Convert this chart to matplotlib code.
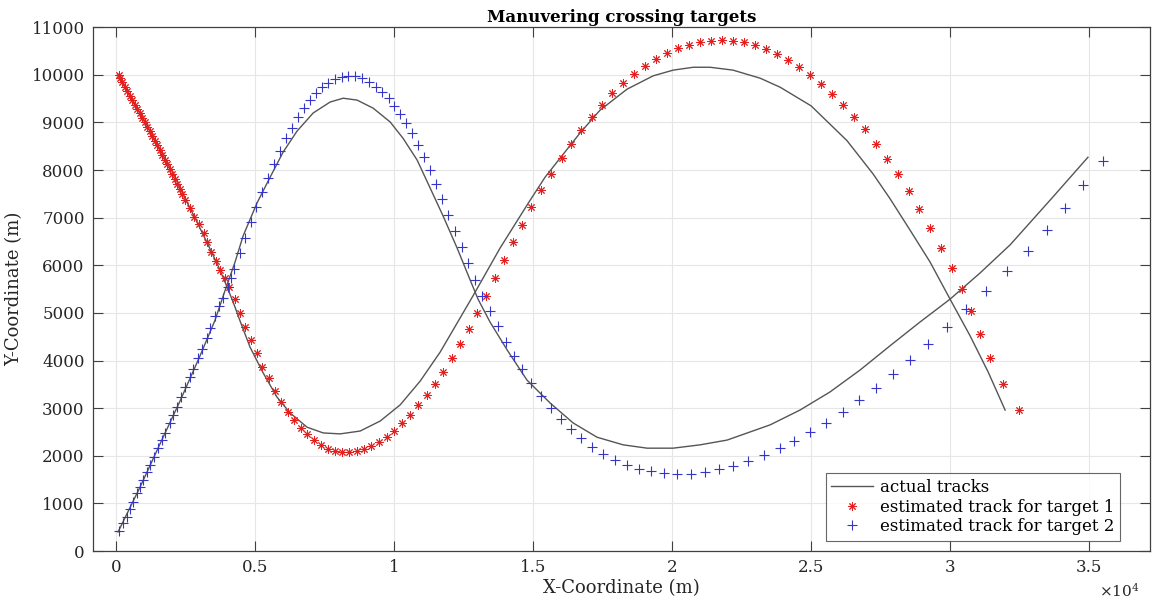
import matplotlib
matplotlib.use("Agg")
from matplotlib import pyplot as plt

# estimated track, target 1 (red stars)
t1_est_x = [100, 160, 230, 340, 410, 510, 590, 690, 770, 870, 950, 1050, 1130, 1230, 1310, 1410, 1490, 1590, 1670, 1770,
            1850, 1950, 2030, 2130, 2210, 2310, 2390, 2490, 2670, 2820, 3000, 3180, 3280, 3430, 3610, 3750, 3930, 4080,
            4290, 4470, 4650, 4870, 5080, 5260, 5510, 5730, 5950, 6200, 6410, 6670, 6880, 7130, 7390, 7640, 7890, 8140,
            8390, 8680, 8930, 9180, 9470, 9760, 10010, 10300, 10590, 10870, 11200, 11490, 11770, 12100, 12380, 12710,
            13000, 13320, 13640, 13970, 14290, 14620, 14940, 15300, 15660, 16050, 16380, 16740, 17130, 17490, 17850,
            18250, 18640, 19040, 19440, 19830, 20230, 20620, 21020, 21410, 21810, 22200, 22600, 23000, 23390, 23790,
            24180, 24580, 24970, 25370, 25770, 26160, 26560, 26950, 27350, 27740, 28140, 28540, 28900, 29290, 29690,
            30080, 30440, 30770, 31090, 31450, 31920, 32490]
t1_est_y = [10000, 9930, 9850, 9740, 9660, 9560, 9470, 9370, 9280, 9200, 9090, 9010, 8900, 8820, 8720, 8610, 8530, 8420,
            8320, 8210, 8130, 8020, 7920, 7810, 7710, 7600, 7500, 7370, 7200, 7010, 6870, 6680, 6490, 6280, 6090, 5900,
            5730, 5540, 5290, 5000, 4700, 4430, 4160, 3860, 3630, 3360, 3130, 2920, 2750, 2580, 2460, 2330, 2230, 2140,
            2100, 2080, 2080, 2100, 2140, 2210, 2290, 2390, 2520, 2690, 2860, 3070, 3280, 3510, 3760, 4050, 4350, 4660,
            5000, 5360, 5730, 6110, 6490, 6850, 7220, 7580, 7920, 8250, 8550, 8840, 9110, 9370, 9620, 9830, 10020,
            10190, 10330, 10460, 10560, 10630, 10690, 10710, 10730, 10710, 10690, 10630, 10540, 10440, 10310, 10160,
            10000, 9810, 9600, 9370, 9110, 8860, 8550, 8230, 7920, 7560, 7180, 6780, 6360, 5940, 5500, 5040, 4560,
            4050, 3510, 2960]

# estimated track, target 2 (blue plus)
t2_est_x = [120, 260, 410, 510, 620, 770, 870, 980, 1130, 1230, 1380, 1520, 1670, 1770, 1950, 2060, 2210, 2350, 2490,
            2670, 2780, 2960, 3100, 3280, 3390, 3570, 3720, 3860, 4040, 4150, 4260, 4470, 4650, 4870, 5050, 5260, 5480,
            5690, 5910, 6130, 6340, 6560, 6770, 6990, 7210, 7420, 7640, 7890, 8140, 8360, 8610, 8860, 9110, 9360, 9580,
            9830, 10010, 10230, 10440, 10660, 10870, 11090, 11310, 11520, 11740, 11950, 12210, 12460, 12670, 12920,
            13180, 13460, 13750, 14040, 14330, 14620, 14940, 15300, 15660, 16020, 16380, 16740, 17130, 17530, 17960,
            18390, 18820, 19260, 19720, 20190, 20690, 21200, 21700, 22200, 22740, 23320, 23900, 24400, 24970, 25550,
            26160, 26740, 27350, 27960, 28570, 29220, 29900, 30590, 31310, 32060, 32820, 33500, 34150, 34790, 35510]
t2_est_y = [420, 590, 710, 880, 1030, 1220, 1340, 1490, 1660, 1810, 1970, 2160, 2330, 2480, 2690, 2860, 3020, 3230,
            3440, 3650, 3820, 4050, 4240, 4470, 4680, 4940, 5150, 5310, 5540, 5730, 5920, 6260, 6570, 6910, 7220, 7540,
            7830, 8130, 8400, 8670, 8880, 9110, 9300, 9470, 9620, 9740, 9830, 9910, 9950, 9980, 9980, 9930, 9850, 9740,
            9640, 9510, 9350, 9180, 8990, 8780, 8530, 8270, 8000, 7710, 7390, 7060, 6720, 6380, 6050, 5690, 5360, 5040,
            4730, 4390, 4100, 3820, 3530, 3260, 3000, 2770, 2560, 2370, 2180, 2040, 1910, 1810, 1720, 1680, 1640, 1620,
            1620, 1660, 1720, 1790, 1890, 2020, 2160, 2310, 2500, 2690, 2920, 3170, 3420, 3720, 4010, 4350, 4700, 5080,
            5460, 5880, 6300, 6740, 7200, 7690, 8190]

# actual tracks
t1_true_x = [80, 590, 1130, 1590, 2060, 2490, 2920, 3320, 3680, 3970, 4220, 4470, 4830, 5300, 5800, 6270, 6880, 7460,
             8070, 8790, 9510, 10230, 10950, 11670, 12850, 13820, 14830, 15440, 15980, 16700, 17420, 18390, 19330,
             20050, 20770, 21380, 22200, 23180, 23900, 25010, 26300, 27240, 27850, 28570, 29290, 30010, 30730, 31380,
             31990]
t1_true_y = [10010, 9470, 8930, 8420, 7940, 7410, 6910, 6430, 5990, 5590, 5230, 4830, 4280, 3740, 3230, 2900, 2600,
             2480, 2460, 2520, 2730, 3070, 3570, 4180, 5360, 6360, 7300, 7850, 8250, 8780, 9260, 9700, 9980, 10100,
             10160, 10160, 10100, 9930, 9740, 9350, 8620, 7920, 7400, 6740, 6070, 5290, 4520, 3760, 2960]
t2_true_x = [80, 870, 1590, 2310, 3030, 3570, 3970, 4290, 4580, 5080, 5550, 6020, 6520, 7100, 7710, 8180, 8680, 9260,
             9870, 10330, 10840, 11310, 11770, 12280, 12670, 13030, 13460, 14080, 14790, 15620, 16450, 17310, 18250,
             19110, 20050, 21020, 21990, 23540, 24610, 25690, 26770, 27850, 28930, 30010, 31090, 32170, 33610, 34970]
t2_true_y = [400, 1340, 2250, 3150, 4100, 4850, 5540, 6070, 6620, 7310, 7850, 8380, 8820, 9200, 9430, 9510, 9470, 9300,
             9010, 8670, 8210, 7620, 7040, 6360, 5800, 5290, 4810, 4220, 3590, 3110, 2690, 2390, 2230, 2160, 2160, 2230,
             2330, 2650, 2960, 3340, 3800, 4310, 4810, 5290, 5840, 6430, 7370, 8270]

x_ticks = [0, 5000, 10000, 15000, 20000, 25000, 30000, 35000]
x_labels = ["0", "0.5", "1", "1.5", "2", "2.5", "3", "3.5"]
y_ticks = list(range(0, 11001, 1000))

plt.rcParams['font.family'] = ['DejaVu Serif']
plt.rcParams['mathtext.fontset'] = 'dejavuserif'

fig = plt.figure(figsize=(11.57, 6.02), dpi=100)
ax = fig.add_axes([0.0804, 0.0847, 0.9135, 0.870])

ax.plot(t1_true_x, t1_true_y, color="#555555", lw=1.0, label="actual tracks")
ax.plot(t2_true_x, t2_true_y, color="#555555", lw=1.0)
ax.plot(t1_est_x, t1_est_y, ls="none", marker=(8, 2, 0), ms=6, color="#e32020", mew=0.7,
        label="estimated track for target 1")
ax.plot(t2_est_x, t2_est_y, ls="none", marker="+", ms=7.5, color="#3535c8", mew=0.8,
        label="estimated track for target 2")

ax.set_xlim(-820, 37200)
ax.set_ylim(0, 11000)
ax.set_xticks(x_ticks)
ax.set_xticklabels(x_labels)
ax.set_yticks(y_ticks)
ax.tick_params(direction="in", length=7, width=0.8, top=True, right=True, labelsize=12,
               colors="#404040", labelcolor="#262626", pad=6)
ax.grid(True, color="#e6e6e6", lw=0.8)
ax.set_axisbelow(True)
for s in ax.spines.values():
    s.set_color("#404040")
    s.set_linewidth(0.9)

ax.set_title("Manuvering crossing targets", fontsize=12, fontweight="bold", pad=4)
ax.set_xlabel("X-Coordinate (m)", fontsize=13, labelpad=2, color="#262626")
ax.set_ylabel("Y-Coordinate (m)", fontsize=13, labelpad=6, color="#262626")
ax.text(0.9905, -0.088, r"$\times10^4$", transform=ax.transAxes, ha="right", va="baseline",
        fontsize=11, color="#262626")

leg = ax.legend(loc="lower right", fontsize=12, frameon=True, fancybox=False,
                edgecolor="#404040", borderpad=0.35, labelspacing=0.15, handlelength=2.5,
                handletextpad=0.4, borderaxespad=0, bbox_to_anchor=(0.9716, 0.019))
leg.get_frame().set_linewidth(0.8)

plt.savefig("out.png", dpi=100)
